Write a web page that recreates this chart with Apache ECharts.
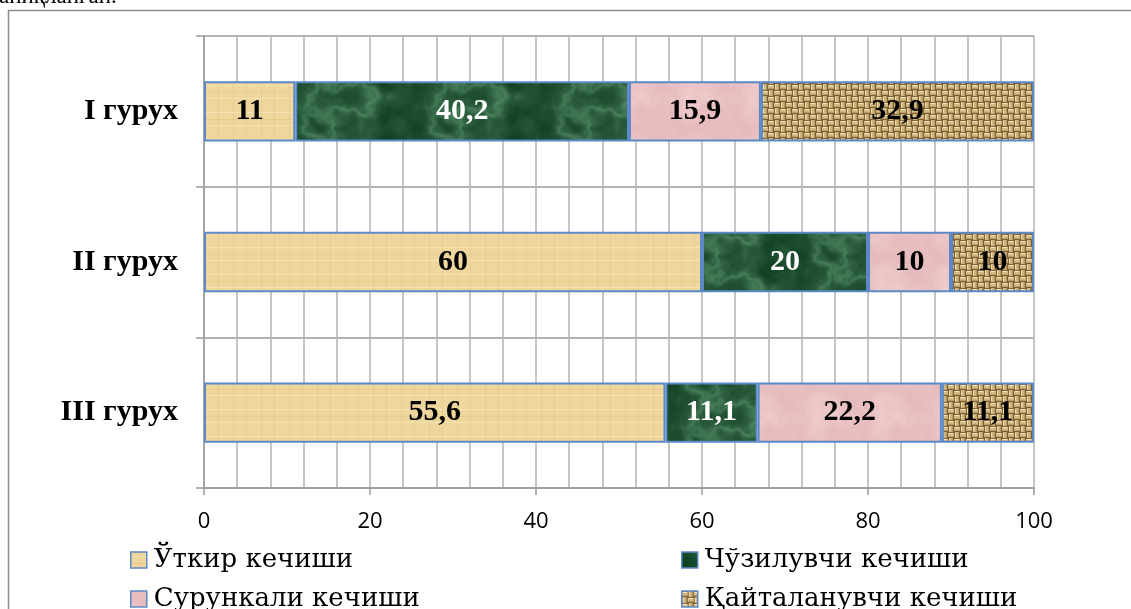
<!DOCTYPE html>
<html>
<head>
<meta charset="utf-8">
<script src="https://cdn.jsdelivr.net/npm/echarts@6/dist/echarts.min.js"></script>
<style>
  html, body { margin: 0; padding: 0; background: #ffffff; }
  #chart { width: 1131px; height: 609px; }
</style>
</head>
<body>
<div id="chart"></div>
<script>
// Distribution of disease course types by group, %
const categories = ['I гурух', 'II гурух', 'III гурух'];
const seriesNames = ['Ўткир кечиши', 'Чўзилувчи кечиши', 'Сурункали кечиши', 'Қайталанувчи кечиши'];
const acute = [11, 60, 55.6];
const prolonged = [40.2, 20, 11.1];
const chronic = [15.9, 10, 22.2];
const recurrent = [32.9, 10, 11.1];
const xTickLabels = [0, 20, 40, 60, 80, 100];

// ---- textured fills (canvas tiles) ----
function tile(w, h, draw) {
  const c = document.createElement('canvas');
  c.width = w; c.height = h;
  draw(c.getContext('2d'), w, h);
  return c;
}
function mix(a, b, t) {
  t = Math.max(0, Math.min(1, t));
  return [0, 1, 2].map(i => Math.round(a[i] + (b[i] - a[i]) * t));
}
function pixelTile(w, h, fn) {
  return tile(w, h, (ctx) => {
    const img = ctx.createImageData(w, h);
    for (let y = 0; y < h; y++) {
      for (let x = 0; x < w; x++) {
        const c = fn(x, y);
        const k = (y * w + x) * 4;
        img.data[k] = c[0]; img.data[k + 1] = c[1]; img.data[k + 2] = c[2]; img.data[k + 3] = 255;
      }
    }
    ctx.putImageData(img, 0, 0);
  });
}
// hashed lattice value, periodic so that tiles wrap seamlessly
function lattice(ix, iy, px, py, seed) {
  ix = ((ix % px) + px) % px; iy = ((iy % py) + py) % py;
  const s = Math.sin(ix * 127.1 + iy * 311.7 + seed * 74.7) * 43758.5453;
  return s - Math.floor(s);
}
function smooth(t) { return t * t * (3 - 2 * t); }
function vnoise(x, y, px, py, seed) {
  const ix = Math.floor(x), iy = Math.floor(y);
  const fx = smooth(x - ix), fy = smooth(y - iy);
  const a = lattice(ix, iy, px, py, seed), b = lattice(ix + 1, iy, px, py, seed);
  const c = lattice(ix, iy + 1, px, py, seed), d = lattice(ix + 1, iy + 1, px, py, seed);
  return (a + (b - a) * fx) * (1 - fy) + (c + (d - c) * fx) * fy;
}
function fbm(x, y, w, h, cell, seed) {
  let v = 0, amp = 0.5, total = 0, c = cell;
  for (let o = 0; o < 4; o++) {
    v += amp * vnoise(x / c, y / c, w / c, h / c, seed + o);
    total += amp; amp *= 0.5; c /= 2;
  }
  return v / total;
}

// parchment: pale beige with faint fibre lines
const parchment = tile(28, 27, (ctx, w, h) => {
  ctx.fillStyle = '#efd69d';
  ctx.fillRect(0, 0, w, h);
  ctx.fillStyle = 'rgba(250,236,200,0.6)';
  ctx.fillRect(0, 4, w, 1);
  ctx.fillRect(0, 17, w, 1);
  ctx.fillStyle = 'rgba(214,186,125,0.3)';
  ctx.fillRect(9, 0, 1, h);
  ctx.fillRect(22, 0, 1, h);
  ctx.fillRect(0, 11, w, 1);
});

// green marble: dark green, mottled, with soft pale veins
const DARK_G = [18, 66, 36], LIGHT_G = [96, 150, 112];
const marble = pixelTile(128, 64, (x, y) => {
  const n = fbm(x, y, 128, 64, 32, 3);
  const m = fbm(x, y, 128, 64, 16, 11);
  const vein = Math.pow(1 - Math.abs(n * 2 - 1), 5);
  return mix(DARK_G, LIGHT_G, vein * 0.6 + (m - 0.35) * 0.45);
});

// pink paper, softly mottled
const P1 = [222, 174, 177], P2 = [242, 208, 208];
const pinkPaper = pixelTile(64, 64, (x, y) => mix(P1, P2, 0.2 + fbm(x, y, 64, 64, 16, 5) * 0.8));

// burlap weave
const burlap = tile(24, 24, (ctx) => {
  ctx.fillStyle = '#7d6137';
  ctx.fillRect(0, 0, 24, 24);
  for (let i = 0; i < 4; i++) {
    for (let j = 0; j < 4; j++) {
      const x = i * 6, y = j * 6;
      if ((i + j) % 2 === 0) {
        ctx.fillStyle = '#d3b982'; ctx.fillRect(x, y + 1, 6, 3);
        ctx.fillStyle = '#f5e8c0'; ctx.fillRect(x + 1, y + 1, 4, 1);
        ctx.fillStyle = '#bd9f68'; ctx.fillRect(x, y + 4, 6, 1);
      } else {
        ctx.fillStyle = '#cfb47e'; ctx.fillRect(x + 1, y, 3, 6);
        ctx.fillStyle = '#f2e3b7'; ctx.fillRect(x + 1, y + 1, 1, 4);
        ctx.fillStyle = '#b89a64'; ctx.fillRect(x + 4, y, 1, 6);
      }
    }
  }
});

const fills = [
  { image: parchment, repeat: 'repeat' },
  { image: marble, repeat: 'repeat' },
  { image: pinkPaper, repeat: 'repeat' },
  { image: burlap, repeat: 'repeat' }
];
const labelColors = ['#000000', '#ffffff', '#000000', '#000000'];
const values = [acute, prolonged, chronic, recurrent];

const SERIF = '"Liberation Serif", "DejaVu Serif", serif';
const LEGEND_SERIF = '"DejaVu Serif", "Liberation Serif", serif';
const GRID_COLOR = '#b3b3b3';
const AXIS_COLOR = '#9a9a9a';
const BAR_EDGE = '#5b89c8';

const chart = echarts.init(document.getElementById('chart'), null, { renderer: 'canvas' });

const legendPos = [
  { left: 130, top: 547 },
  { left: 681, top: 547 },
  { left: 130, top: 586 },
  { left: 681, top: 586 }
];

const option = {
  animation: false,
  backgroundColor: '#ffffff',
  graphic: [
    {
      type: 'rect',
      shape: { x: 8.5, y: 10.5, width: 1130, height: 640 },
      style: { fill: 'none', stroke: '#8c8c8c', lineWidth: 1.5 },
      silent: true
    },
    {
      type: 'text',
      style: {
        x: -1, y: 8, text: 'аниқланган.',
        font: '23px ' + SERIF, fill: '#000000',
        verticalAlign: 'bottom'
      },
      silent: true
    }
  ],
  legend: seriesNames.map((name, i) => ({
    data: [name],
    left: legendPos[i].left,
    top: legendPos[i].top,
    orient: 'horizontal',
    icon: 'rect',
    itemWidth: 16,
    itemHeight: 16,
    itemGap: 0,
    padding: 0,
    selectedMode: false,
    itemStyle: { borderColor: BAR_EDGE, borderWidth: 1.5 },
    textStyle: { fontFamily: LEGEND_SERIF, fontSize: 26, color: '#000000', padding: [0, 0, 0, 2] }
  })),
  grid: { left: 204, right: 97, top: 36, bottom: 121, containLabel: false },
  xAxis: {
    type: 'value',
    min: 0,
    max: 100,
    interval: 20,
    axisLine: { show: true, lineStyle: { color: AXIS_COLOR, width: 1.5 } },
    axisTick: { show: true, length: 7, lineStyle: { color: AXIS_COLOR, width: 1.5 } },
    minorTick: { show: false, splitNumber: 5 },
    splitLine: { show: true, lineStyle: { color: GRID_COLOR, width: 1.5 } },
    minorSplitLine: { show: true, lineStyle: { color: GRID_COLOR, width: 1.5 } },
    axisLabel: {
      margin: 23,
      fontFamily: '"Open Sans", "Liberation Sans", sans-serif',
      fontSize: 22,
      color: '#000000',
      formatter: (v) => (xTickLabels.indexOf(v) >= 0 ? String(v) : '')
    }
  },
  yAxis: {
    type: 'category',
    data: categories,
    inverse: true,
    axisLine: { show: true, lineStyle: { color: AXIS_COLOR, width: 1.5 } },
    axisTick: { show: true, length: 8, lineStyle: { color: AXIS_COLOR, width: 1.5 } },
    splitLine: { show: true, lineStyle: { color: AXIS_COLOR, width: 1.5 } },
    axisLabel: {
      margin: 26,
      fontFamily: SERIF,
      fontWeight: 'bold',
      fontSize: 30,
      color: '#000000'
    }
  },
  series: seriesNames.map((name, i) => ({
    name: name,
    type: 'bar',
    stack: 'total',
    barWidth: '40%',
    data: values[i],
    itemStyle: { color: fills[i], borderColor: BAR_EDGE, borderWidth: 2 },
    label: {
      show: true,
      position: 'inside',
      fontFamily: SERIF,
      fontWeight: 'bold',
      fontSize: 30,
      color: labelColors[i],
      formatter: (p) => String(p.value).replace('.', ',')
    }
  }))
};

chart.setOption(option);
</script>
</body>
</html>
